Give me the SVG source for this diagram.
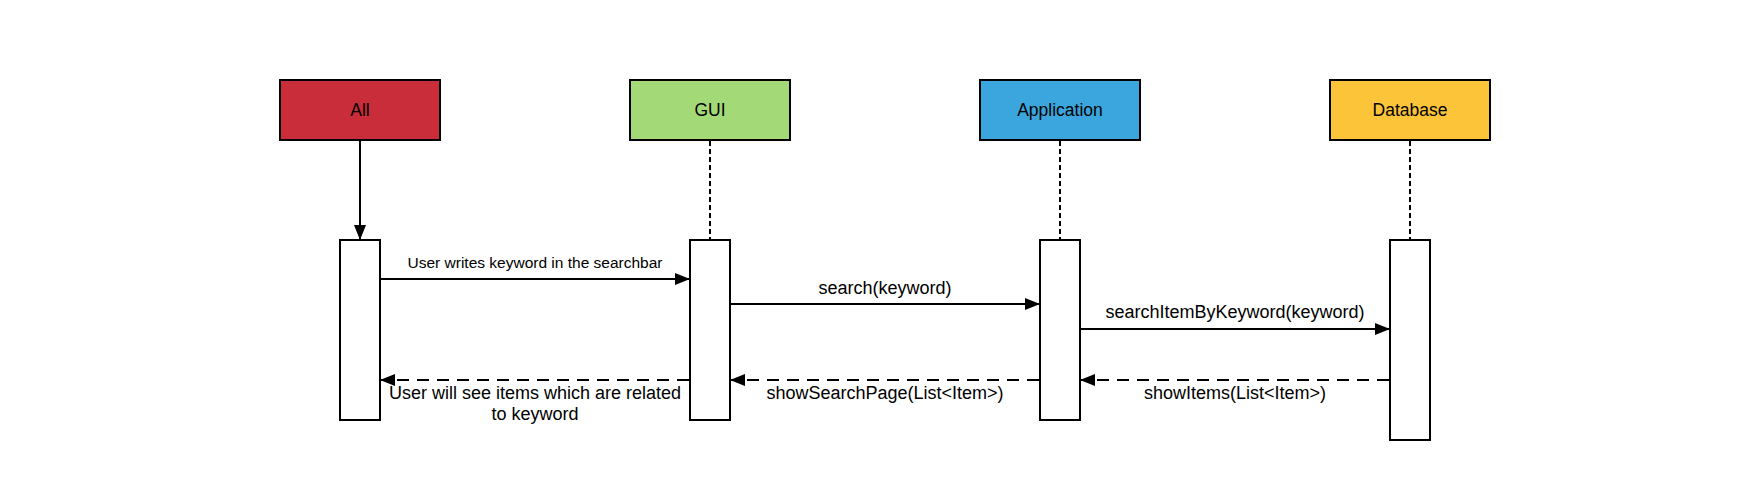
<svg xmlns="http://www.w3.org/2000/svg" width="1760" height="480" viewBox="0 0 1760 480">
<style>
.head{stroke:#000;stroke-width:2}
.act{fill:#fff;stroke:#000;stroke-width:2}
.lbl{font-family:"Liberation Sans",Arial,sans-serif;font-size:17.5px;fill:#000;text-anchor:middle}
.msg{font-family:"Liberation Sans",Arial,sans-serif;font-size:18px;fill:#000;text-anchor:middle}
.small{font-size:15.5px}
.life{stroke:#000;stroke-width:2;stroke-dasharray:5 3;fill:none}
.call{stroke:#000;stroke-width:2;fill:none;marker-end:url(#arr)}
.ret{stroke:#000;stroke-width:2;fill:none;stroke-dasharray:12 8;marker-end:url(#arr)}
</style>
<defs>
<marker id="arr" markerUnits="userSpaceOnUse" markerWidth="16" markerHeight="12" refX="15" refY="6" orient="auto" viewBox="0 0 16 12">
<path d="M0,0 L15,6 L0,12 z" fill="#000"/>
</marker>
</defs>
<rect width="1760" height="480" fill="#fff"/>
<g id="node-all">
<rect class="head" x="280" y="80" width="160" height="60" fill="#c92d39"/>
<text class="lbl" x="360" y="116">All</text>
<rect class="act" x="340" y="240" width="40" height="180"/>
</g>
<g id="node-gui">
<rect class="head" x="630" y="80" width="160" height="60" fill="#a3d977"/>
<text class="lbl" x="710" y="116">GUI</text>
<line class="life" x1="710" y1="141" x2="710" y2="240"/>
<rect class="act" x="690" y="240" width="40" height="180"/>
</g>
<g id="node-application">
<rect class="head" x="980" y="80" width="160" height="60" fill="#3aa6dd"/>
<text class="lbl" x="1060" y="116">Application</text>
<line class="life" x1="1060" y1="141" x2="1060" y2="240"/>
<rect class="act" x="1040" y="240" width="40" height="180"/>
</g>
<g id="node-database">
<rect class="head" x="1330" y="80" width="160" height="60" fill="#fcc438"/>
<text class="lbl" x="1410" y="116">Database</text>
<line class="life" x1="1410" y1="141" x2="1410" y2="240"/>
<rect class="act" x="1390" y="240" width="40" height="200"/>
</g>
<g id="connectors">
<line class="call" x1="360" y1="141" x2="360" y2="240"/>
<line class="call" x1="381" y1="279" x2="690" y2="279"/>
<line class="call" x1="731" y1="304" x2="1040" y2="304"/>
<line class="call" x1="1081" y1="329" x2="1390" y2="329"/>
<line class="ret" x1="1389" y1="380" x2="1080" y2="380"/>
<line class="ret" x1="1039" y1="380" x2="730" y2="380"/>
<line class="ret" x1="689" y1="380" x2="380" y2="380"/>
<text class="msg small" x="535" y="268">User writes keyword in the searchbar</text>
<text class="msg" x="885" y="294">search(keyword)</text>
<text class="msg" x="1235" y="318">searchItemByKeyword(keyword)</text>
<text class="msg" x="1235" y="399">showItems(List&lt;Item&gt;)</text>
<text class="msg" x="885" y="399">showSearchPage(List&lt;Item&gt;)</text>
<text class="msg" x="535" y="399">User will see items which are related</text>
<text class="msg" x="535" y="420">to keyword</text>
</g>
</svg>
